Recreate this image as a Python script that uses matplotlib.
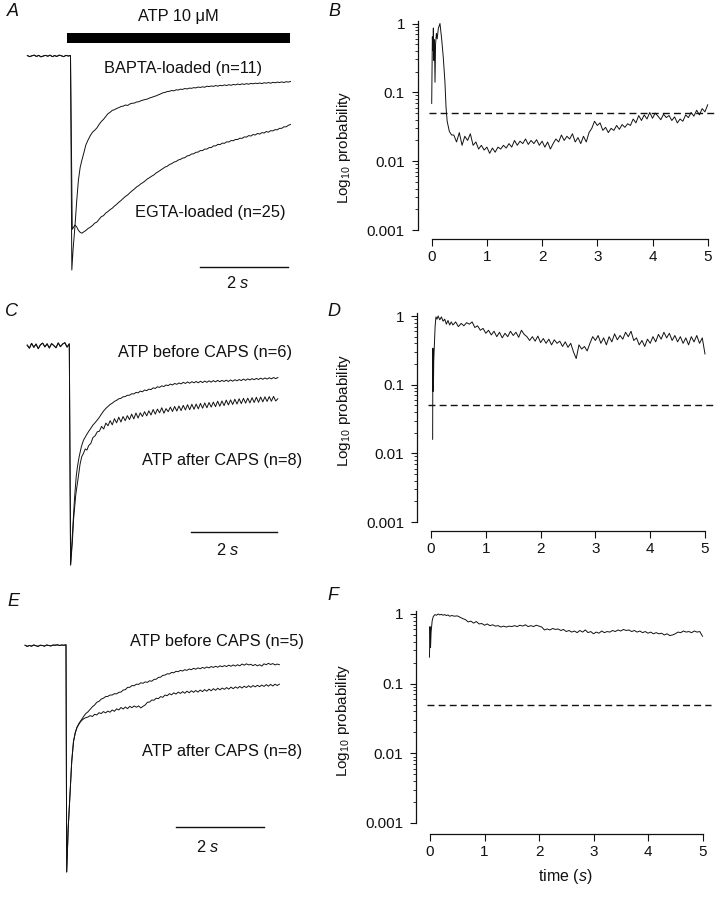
import numpy as np
import matplotlib
matplotlib.use("Agg")
import matplotlib.pyplot as plt
from matplotlib.patches import Rectangle
from matplotlib.ticker import LogLocator, NullFormatter

plt.rcParams['font.family'] = ['Liberation Sans', 'DejaVu Sans']
plt.rcParams['mathtext.fontset'] = 'custom'
plt.rcParams['mathtext.rm'] = 'Liberation Sans'
plt.rcParams['mathtext.it'] = 'Liberation Sans:italic'

# ---- panel A: normalised current, BAPTA vs EGTA ----
a_base = [0.002, -0.003, 0.001, 0.004, -0.002, 0.003, -0.004, 0.000, 0.003, -0.001,
          0.004, -0.003, 0.002, -0.002, 0.004, 0.001, -0.003, 0.003, 0.000, 0.002]
a_bapta_t0 = [0.03, 0.06, 0.10, 0.14, 0.18, 0.22, 0.26, 0.30, 0.35, 0.40, 0.45]
a_bapta_0 = [-1.0, -0.90, -0.80, -0.68, -0.58, -0.52, -0.486, -0.455, -0.415, -0.392, -0.372]
a_egta_t0 = [0.04, 0.07, 0.10, 0.14, 0.18, 0.22, 0.26, 0.30, 0.35, 0.40, 0.45]
a_egta_0 = [-0.81, -0.80, -0.79, -0.798, -0.815, -0.824, -0.828, -0.822, -0.815, -0.806, -0.80]
a_bapta = [-0.356, -0.347, -0.336, -0.320, -0.306, -0.296, -0.283, -0.270, -0.263, -0.254,
           -0.251, -0.245, -0.241, -0.236, -0.234, -0.229, -0.231, -0.224, -0.221, -0.220,
           -0.215, -0.214, -0.209, -0.206, -0.203, -0.201, -0.196, -0.193, -0.189, -0.186,
           -0.181, -0.177, -0.172, -0.170, -0.166, -0.165, -0.161, -0.163, -0.158, -0.159,
           -0.155, -0.156, -0.152, -0.154, -0.150, -0.151, -0.148, -0.149, -0.145, -0.147,
           -0.144, -0.146, -0.141, -0.143, -0.140, -0.142, -0.138, -0.141, -0.137, -0.139,
           -0.135, -0.138, -0.134, -0.137, -0.133, -0.135, -0.131, -0.134, -0.130, -0.133,
           -0.129, -0.132, -0.128, -0.130, -0.127, -0.129, -0.126, -0.129, -0.125, -0.127,
           -0.124, -0.127, -0.123, -0.125, -0.122, -0.124, -0.121, -0.124, -0.120, -0.122,
           -0.119]
a_egta = [-0.792, -0.781, -0.776, -0.763, -0.751, -0.746, -0.734, -0.727, -0.718, -0.711,
          -0.701, -0.693, -0.683, -0.675, -0.665, -0.656, -0.649, -0.639, -0.630, -0.622,
          -0.612, -0.606, -0.597, -0.591, -0.583, -0.574, -0.568, -0.561, -0.555, -0.546,
          -0.540, -0.533, -0.526, -0.519, -0.515, -0.507, -0.503, -0.496, -0.493, -0.486,
          -0.483, -0.477, -0.475, -0.467, -0.465, -0.458, -0.457, -0.450, -0.449, -0.442,
          -0.442, -0.435, -0.435, -0.428, -0.428, -0.420, -0.420, -0.413, -0.414, -0.407,
          -0.408, -0.401, -0.402, -0.395, -0.396, -0.390, -0.390, -0.384, -0.385, -0.378,
          -0.379, -0.372, -0.374, -0.367, -0.369, -0.362, -0.365, -0.358, -0.360, -0.353,
          -0.356, -0.349, -0.350, -0.344, -0.345, -0.338, -0.338, -0.331, -0.331, -0.324,
          -0.320]

# ---- panel C: ATP before / after CAPS (n=6 / n=8) ----
c_base = [0.004, -0.010, 0.012, -0.006, 0.009, -0.012, 0.006, 0.013, -0.004, 0.010,
          -0.009, 0.011, 0.002, -0.008, 0.014, -0.003, 0.009, 0.015, -0.005, 0.010]
c_before_t0 = [0.03, 0.06, 0.09, 0.12, 0.16, 0.19, 0.23, 0.28, 0.33, 0.40, 0.45]
c_before_0 = [-1.0, -0.90, -0.80, -0.70, -0.597, -0.55, -0.505, -0.46, -0.43, -0.406, -0.39]
c_after_t0 = [0.03, 0.07, 0.10, 0.15, 0.21, 0.25, 0.29, 0.33, 0.37, 0.41, 0.45]
c_after_0 = [-1.0, -0.90, -0.79, -0.68, -0.597, -0.54, -0.505, -0.49, -0.47, -0.475, -0.455]
c_before = [-0.376, -0.361, -0.350, -0.338, -0.325, -0.310, -0.296, -0.285, -0.276, -0.267,
            -0.261, -0.253, -0.248, -0.241, -0.239, -0.232, -0.231, -0.225, -0.225, -0.218,
            -0.219, -0.212, -0.214, -0.206, -0.209, -0.201, -0.204, -0.197, -0.199, -0.191,
            -0.194, -0.186, -0.189, -0.182, -0.185, -0.178, -0.181, -0.174, -0.178, -0.171,
            -0.175, -0.169, -0.173, -0.166, -0.171, -0.164, -0.170, -0.163, -0.168, -0.162,
            -0.168, -0.161, -0.167, -0.160, -0.166, -0.159, -0.165, -0.158, -0.164, -0.157,
            -0.163, -0.157, -0.162, -0.156, -0.162, -0.155, -0.161, -0.154, -0.159, -0.153,
            -0.158, -0.151, -0.157, -0.150, -0.155, -0.149, -0.154, -0.148, -0.153, -0.147,
            -0.152, -0.146, -0.151, -0.145, -0.150, -0.144, -0.149, -0.144]
c_after = [-0.445, -0.418, -0.410, -0.392, -0.389, -0.367, -0.379, -0.352, -0.364, -0.341,
           -0.360, -0.332, -0.351, -0.325, -0.347, -0.322, -0.341, -0.318, -0.336, -0.311,
           -0.333, -0.306, -0.329, -0.305, -0.322, -0.300, -0.319, -0.296, -0.315, -0.290,
           -0.311, -0.288, -0.305, -0.282, -0.307, -0.286, -0.300, -0.279, -0.299, -0.276,
           -0.297, -0.274, -0.295, -0.271, -0.292, -0.268, -0.291, -0.266, -0.289, -0.265,
           -0.287, -0.262, -0.284, -0.260, -0.282, -0.258, -0.279, -0.256, -0.277, -0.252,
           -0.275, -0.251, -0.272, -0.247, -0.269, -0.246, -0.267, -0.243, -0.265, -0.241,
           -0.263, -0.239, -0.261, -0.238, -0.260, -0.236, -0.258, -0.234, -0.257, -0.233,
           -0.255, -0.232, -0.253, -0.231, -0.252, -0.230, -0.251, -0.241]

# ---- panel E: ATP before / after CAPS (n=5 / n=8) ----
e_base = [0.002, -0.003, 0.001, -0.002, 0.003, 0.000, -0.003, 0.002, 0.001, -0.002,
          0.003, 0.001, -0.001, 0.003, 0.002, 0.004, 0.001, 0.003, 0.002, 0.004]
e_t0 = [0.016, 0.05, 0.09, 0.13, 0.17, 0.21, 0.25, 0.29, 0.33, 0.37, 0.41, 0.45]
e_before_0 = [-1.0, -0.806, -0.66, -0.512, -0.424, -0.385, -0.360, -0.345, -0.333, -0.322, -0.310, -0.300]
e_after_0 = [-1.0, -0.806, -0.66, -0.512, -0.424, -0.385, -0.362, -0.348, -0.336, -0.328, -0.322, -0.318]
e_before = [-0.292, -0.281, -0.270, -0.262, -0.250, -0.246, -0.236, -0.232, -0.225, -0.224,
            -0.218, -0.218, -0.212, -0.213, -0.206, -0.205, -0.196, -0.194, -0.184, -0.184,
            -0.176, -0.177, -0.170, -0.171, -0.164, -0.166, -0.160, -0.162, -0.155, -0.157,
            -0.149, -0.148, -0.140, -0.139, -0.131, -0.130, -0.124, -0.125, -0.118, -0.120,
            -0.113, -0.115, -0.109, -0.112, -0.106, -0.109, -0.103, -0.106, -0.100, -0.104,
            -0.098, -0.102, -0.096, -0.100, -0.094, -0.098, -0.092, -0.096, -0.091, -0.095,
            -0.089, -0.093, -0.088, -0.092, -0.086, -0.091, -0.085, -0.090, -0.084, -0.089,
            -0.081, -0.086, -0.080, -0.085, -0.082, -0.088, -0.083, -0.089, -0.084, -0.090,
            -0.080, -0.084, -0.078, -0.083, -0.079, -0.085, -0.081, -0.084]
e_after = [-0.315, -0.309, -0.313, -0.303, -0.306, -0.296, -0.300, -0.291, -0.297, -0.289,
           -0.294, -0.284, -0.290, -0.279, -0.284, -0.273, -0.280, -0.271, -0.278, -0.268,
           -0.274, -0.266, -0.272, -0.266, -0.275, -0.268, -0.262, -0.250, -0.249, -0.240,
           -0.241, -0.232, -0.234, -0.225, -0.228, -0.218, -0.221, -0.212, -0.217, -0.208,
           -0.214, -0.205, -0.211, -0.203, -0.210, -0.201, -0.208, -0.199, -0.206, -0.198,
           -0.205, -0.196, -0.203, -0.194, -0.201, -0.192, -0.199, -0.190, -0.197, -0.188,
           -0.195, -0.187, -0.193, -0.185, -0.192, -0.183, -0.190, -0.182, -0.188, -0.180,
           -0.187, -0.179, -0.185, -0.177, -0.184, -0.176, -0.182, -0.175, -0.181, -0.174,
           -0.180, -0.172, -0.179, -0.171, -0.178, -0.170, -0.176, -0.170]

# ---- panels B, D, F: probability traces ----
b_t0 = [0.0, 0.012, 0.02, 0.03, 0.04, 0.05, 0.06, 0.07, 0.085, 0.10, 0.12, 0.15, 0.18,
        0.21, 0.24, 0.26, 0.28, 0.32, 0.36]
b_p0 = [0.069, 0.64, 0.41, 0.86, 0.29, 0.58, 0.14, 0.50, 0.72, 0.60, 0.85, 1.0, 0.60,
        0.32, 0.14, 0.06, 0.038, 0.027, 0.024]
b_p = [0.024, 0.019, 0.026, 0.017, 0.023, 0.020, 0.025, 0.017, 0.019, 0.015,
       0.017, 0.0145, 0.016, 0.013, 0.0155, 0.0135, 0.016, 0.015, 0.017, 0.0155,
       0.018, 0.016, 0.020, 0.017, 0.0195, 0.018, 0.021, 0.0175, 0.020, 0.018,
       0.0205, 0.017, 0.0195, 0.016, 0.019, 0.015, 0.018, 0.021, 0.019, 0.024,
       0.020, 0.023, 0.021, 0.025, 0.019, 0.022, 0.018, 0.023, 0.019, 0.026,
       0.030, 0.038, 0.033, 0.036, 0.028, 0.031, 0.026, 0.030, 0.028, 0.033,
       0.029, 0.034, 0.031, 0.035, 0.033, 0.041, 0.036, 0.046, 0.039, 0.047,
       0.041, 0.051, 0.042, 0.050, 0.045, 0.040, 0.048, 0.043, 0.046, 0.039,
       0.044, 0.036, 0.041, 0.038, 0.047, 0.043, 0.051, 0.045, 0.055, 0.047,
       0.058, 0.052, 0.066]

d_t0 = [0.03, 0.034, 0.038, 0.042, 0.046, 0.05, 0.06, 0.075, 0.09, 0.11, 0.13, 0.16,
        0.19, 0.22, 0.25, 0.28, 0.31, 0.34, 0.37]
d_p0 = [0.016, 0.34, 0.08, 0.30, 0.12, 0.22, 0.35, 0.70, 0.97, 0.90, 1.0, 0.88,
        0.97, 0.84, 0.90, 0.76, 0.86, 0.74, 0.82]
d_p = [0.74, 0.82, 0.70, 0.78, 0.72, 0.80, 0.76, 0.82, 0.68, 0.72,
       0.62, 0.66, 0.56, 0.62, 0.53, 0.60, 0.50, 0.58, 0.48, 0.56,
       0.50, 0.60, 0.52, 0.58, 0.49, 0.62, 0.54, 0.50, 0.44, 0.50,
       0.43, 0.51, 0.41, 0.47, 0.40, 0.46, 0.38, 0.45, 0.40, 0.43,
       0.36, 0.42, 0.35, 0.40, 0.30, 0.24, 0.38, 0.33, 0.36, 0.31,
       0.40, 0.50, 0.44, 0.52, 0.40, 0.48, 0.38, 0.50, 0.42, 0.55,
       0.45, 0.52, 0.46, 0.58, 0.50, 0.60, 0.44, 0.48, 0.38, 0.44,
       0.36, 0.46, 0.40, 0.50, 0.42, 0.54, 0.46, 0.58, 0.48, 0.56,
       0.44, 0.52, 0.42, 0.50, 0.40, 0.48, 0.38, 0.50, 0.42, 0.52,
       0.40, 0.48, 0.28]

f_t0 = [-0.01, 0.0, 0.01, 0.02, 0.04, 0.06, 0.09, 0.12, 0.15, 0.18, 0.21, 0.24,
        0.27, 0.30, 0.33, 0.36]
f_p0 = [0.24, 0.66, 0.33, 0.55, 0.80, 0.92, 0.98, 0.96, 1.0, 0.97, 0.99, 0.96,
        0.98, 0.95, 0.97, 0.93]
f_p = [0.95, 0.93, 0.94, 0.90, 0.86, 0.83, 0.77, 0.79, 0.74, 0.78,
       0.72, 0.73, 0.69, 0.72, 0.68, 0.70, 0.67, 0.68, 0.65, 0.67,
       0.65, 0.67, 0.66, 0.68, 0.66, 0.69, 0.67, 0.70, 0.66, 0.68,
       0.66, 0.69, 0.67, 0.65, 0.59, 0.61, 0.59, 0.62, 0.60, 0.61,
       0.58, 0.60, 0.56, 0.58, 0.55, 0.57, 0.54, 0.58, 0.55, 0.59,
       0.54, 0.56, 0.52, 0.55, 0.53, 0.57, 0.54, 0.56, 0.55, 0.58,
       0.56, 0.59, 0.57, 0.60, 0.58, 0.59, 0.56, 0.58, 0.55, 0.57,
       0.54, 0.56, 0.53, 0.55, 0.52, 0.54, 0.52, 0.53, 0.50, 0.52,
       0.49, 0.50, 0.52, 0.55, 0.54, 0.57, 0.55, 0.56, 0.54, 0.57,
       0.55, 0.56, 0.48]

p_threshold = 0.05
x_ticks = [0, 1, 2, 3, 4, 5]
y_ticks = [0.001, 0.01, 0.1, 1]
y_ticklabels = ['0.001', '0.01', '0.1', '1']

W, H = 720, 902
fig = plt.figure(figsize=(W / 100, H / 100), dpi=100)
INK = '#111111'


def box(x0, y0, x1, y1):
    return [x0 / W, 1 - y1 / H, (x1 - x0) / W, (y1 - y0) / H]


def px_text(x, y, s, size=11.8, **kw):
    fig.text(x / W, 1 - y / H, s, fontsize=size, ha='center', va='center', color=INK, **kw)


def trace_axes(y0, y1, t0px, pxs, base_py, peak_py):
    # axes whose data coords (seconds, normalised current) land on the reference pixels
    ax = fig.add_axes(box(0, y0, 320, y1))
    ax.set_xlim(-t0px / pxs, (320 - t0px) / pxs)
    span = peak_py - base_py
    ax.set_ylim((base_py - y1) / span, (base_py - y0) / span)
    ax.axis('off')
    return ax


def join(t_pre0, base, t_early, early, t_end, late):
    t = np.concatenate([np.linspace(t_pre0, 0.0, len(base)), t_early,
                        np.linspace(0.5, t_end, len(late))])
    return t, np.concatenate([base, early, late])


def prob_axes(zero_px, pxs, one_py, milli_py, x_off, ytop=1.1):
    dec = (milli_py - one_py) / 3
    top = one_py - dec * np.log10(ytop)
    ax = fig.add_axes(box(zero_px - 0.25 * pxs, top, zero_px + 5.15 * pxs, milli_py))
    ax.set_yscale('log')
    ax.set_xlim(-0.25, 5.15)
    ax.set_ylim(0.001, ytop)
    for s in ('top', 'right'):
        ax.spines[s].set_visible(False)
    for s in ('left', 'bottom'):
        ax.spines[s].set_linewidth(0.9)
        ax.spines[s].set_color(INK)
    ax.spines['bottom'].set_position(('outward', x_off * 0.72))
    ax.spines['bottom'].set_bounds(0, 5)
    ax.set_xticks(x_ticks)
    ax.set_yticks(y_ticks)
    ax.set_yticklabels(y_ticklabels)
    ax.yaxis.set_minor_locator(LogLocator(base=10, subs=np.arange(2, 10)))
    ax.yaxis.set_minor_formatter(NullFormatter())
    ax.tick_params(axis='y', which='major', length=4.3, width=0.8, pad=5, labelsize=11, colors=INK)
    ax.tick_params(axis='y', which='minor', length=2.4, width=0.6, colors=INK)
    ax.tick_params(axis='x', length=5, width=0.8, pad=3, labelsize=11, colors=INK)
    ax.hlines(p_threshold, -0.05, 5.15, colors=INK, linestyles=(0, (5, 3)), lw=1.0, clip_on=False)
    return ax


# ---- A ----
axA = trace_axes(0, 300, 70.5, 44, 56, 270)
t, y = join(-0.98, a_base, a_bapta_t0, a_bapta_0, 5.0, a_bapta)
axA.plot(t, y, color=INK, lw=0.7)
t, y = join(-0.98, a_base, a_egta_t0, a_egta_0, 5.0, a_egta)
axA.plot(t, y, color=INK, lw=0.7)
axA.add_patch(Rectangle((-0.086, 0.060), 5.08, 0.047, color='black', lw=0))
axA.plot([2.94, 4.94], [-0.985, -0.985], color=INK, lw=1.0)
px_text(13, 12, 'A', size=13, style='italic')
px_text(178.5, 17, 'ATP 10 \u03bcM')
px_text(182.5, 68, 'BAPTA-loaded (n=11)')
px_text(210, 213, 'EGTA-loaded (n=25)')
px_text(238, 283, '2 $s$')

# ---- C ----
axC = trace_axes(300, 580, 69.3, 43, 346, 565)
t, y = join(-0.98, c_base, c_before_t0, c_before_0, 4.85, c_before)
axC.plot(t, y, color=INK, lw=0.7)
t, y = join(-0.98, c_base, c_after_t0, c_after_0, 4.85, c_after)
axC.plot(t, y, color=INK, lw=0.7)
axC.plot([2.82, 4.82], [-0.851, -0.851], color=INK, lw=1.0)
px_text(12, 312, 'C', size=13, style='italic')
px_text(205, 352, 'ATP before CAPS (n=6)')
px_text(222.5, 460, 'ATP after CAPS (n=8)')
px_text(228, 550, '2 $s$')

# ---- E ----
axE = trace_axes(580, 902, 66, 44, 645.7, 872)
t, y = join(-0.93, e_base, e_t0, e_before_0, 4.85, e_before)
axE.plot(t, y, color=INK, lw=0.7)
t, y = join(-0.93, e_base, e_t0, e_after_0, 4.85, e_after)
axE.plot(t, y, color=INK, lw=0.7)
axE.plot([2.5, 4.5], [-0.802, -0.802], color=INK, lw=1.0)
px_text(13, 602, 'E', size=13, style='italic')
px_text(216.7, 641.7, 'ATP before CAPS (n=5)')
px_text(221.7, 751.7, 'ATP after CAPS (n=8)')
px_text(207.5, 846.7, '2 $s$')

# ---- B, D, F ----
panels = [
    ('B', (334, 11), prob_axes(431.7, 55.2, 23.5, 230, 9), b_t0, b_p0, b_p, 0.394),
    ('D', (334, 311), prob_axes(431.0, 54.8, 316, 522, 9), d_t0, d_p0, d_p, 0.533),
    ('F', (333, 596), prob_axes(430.0, 54.5, 614, 823, 11), f_t0, f_p0, f_p, 0.483),
]
for letter, pos, ax, t0, p0, p, ylab_y in panels:
    t = np.concatenate([t0, np.linspace(0.4, 5.0, len(p))])
    ax.plot(t, np.concatenate([p0, p]), color=INK, lw=0.7)
    ax.set_ylabel('Log$_{10}$ probability', fontsize=11, color=INK)
    ax.yaxis.set_label_coords(-0.218, ylab_y)
    px_text(pos[0], pos[1], letter, size=13, style='italic')

px_text(565.5, 876, 'time ($s$)', size=11.5)

fig.savefig('out.png', dpi=100, facecolor='white')
